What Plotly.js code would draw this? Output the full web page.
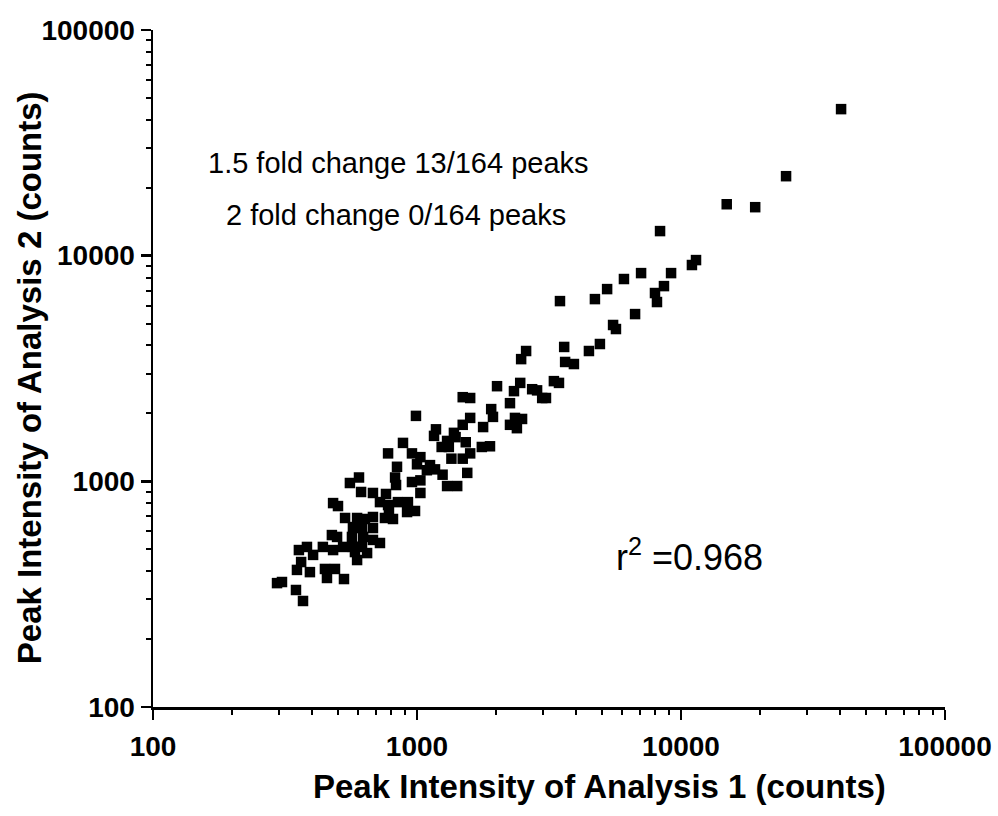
<!DOCTYPE html>
<html>
<head>
<meta charset="utf-8">
<script src="https://cdn.plot.ly/plotly-3.0.1.min.js"></script>
<style>html,body{margin:0;padding:0;background:#fff;}</style>
</head>
<body>
<div id="chart" style="width:998px;height:816px;"></div>
<script>
// Peak intensities
var analysis1 = [40400,25000,14900,19100,8330,11400,11000,9170,7060,6080,5250,4720,3480,8620,7970,8110,6700,5530,5670,4930,4480,3610,3640,3930,2590,2480,2010,2460,2330,2730,2850,3300,3450,2980,3080,2250,1910,1940,1590,1490,1590,1490,1780,2350,2500,2250,2390,1530,1760,1890,991,1180,1160,1380,1400,1300,1240,1320,1590,1490,1350,885,777,957,1030,1000,1120,1170,1090,1250,1550,840,826,833,957,1030,1300,1420,1030,603,557,614,681,763,724,777,847,924,917,983,783,681,756,811,481,502,534,593,635,572,619,681,476,498,567,625,681,724,383,440,525,572,619,357,404,481,582,593,647,364,351,393,448,456,489,529,295,308,348,370];
var analysis2 = [44600,22500,16900,16400,12850,9560,9090,8370,8370,7880,7110,6420,6290,7330,6830,6230,5510,4930,4730,4060,3780,3940,3380,3310,3780,3480,2640,2730,2510,2560,2530,2780,2730,2340,2340,2220,2090,1930,1910,2360,2340,1780,1740,1910,1890,1780,1720,1490,1420,1430,1950,1700,1590,1640,1570,1510,1420,1420,1330,1260,1260,1480,1330,1330,1280,1190,1180,1130,1120,1070,1090,1160,1040,963,993,1010,953,953,888,1040,983,897,888,879,809,785,809,809,731,739,746,695,688,681,801,777,688,688,681,627,621,621,578,567,567,567,550,533,512,512,512,512,512,496,472,496,486,448,481,439,405,396,409,373,409,369,354,358,330,295];

var tickValues = [100, 1000, 10000, 100000];
var tickLabels = ["100", "1000", "10000", "100000"];

var xTitle = "Peak Intensity of Analysis 1 (counts)";
var yTitle = "Peak Intensity of Analysis 2 (counts)";
var note1 = "1.5 fold change 13/164 peaks";
var note2 = "2 fold change 0/164 peaks";
var rText = "r<sup>2</sup> =0.968";

var FONT = "Liberation Sans, Arial, Helvetica, sans-serif";

var trace = {
  x: analysis1,
  y: analysis2,
  type: "scatter",
  mode: "markers",
  marker: {symbol: "square", size: 10.5, color: "#000000", line: {width: 0}},
  hoverinfo: "x+y"
};

function axis(standoff) {
  return {
    type: "log",
    range: [2, 5],
    showline: true,
    linecolor: "#000",
    linewidth: 2.5,
    ticks: "outside",
    ticklen: 10,
    tickwidth: 2.5,
    tickcolor: "#000",
    tickmode: "array",
    tickvals: tickValues,
    ticktext: tickLabels,
    ticklabelstandoff: standoff,
    tickfont: {family: FONT, size: 28, color: "#000", weight: "bold"},
    showgrid: false,
    zeroline: false,
    minor: {ticks: "outside", ticklen: 5, tickwidth: 2, tickcolor: "#000", dtick: "D1", showgrid: false},
    fixedrange: true
  };
}

var titleFont = {family: FONT, size: 33, color: "#000", weight: "bold"};

var layout = {
  width: 998,
  height: 816,
  margin: {l: 153, r: 53, t: 30, b: 109, pad: 0},
  paper_bgcolor: "#fff",
  plot_bgcolor: "#fff",
  showlegend: false,
  xaxis: axis(3),
  yaxis: axis(0),
  annotations: [
    {xref: "paper", yref: "paper", x: 0.564, y: -0.118, text: xTitle, showarrow: false,
     xanchor: "center", yanchor: "middle", font: titleFont},
    {xref: "paper", yref: "paper", x: -0.155, y: 0.486, text: yTitle, showarrow: false, textangle: -90,
     xanchor: "center", yanchor: "middle", font: titleFont},
    {xref: "paper", yref: "paper", x: 0.31, y: 0.8035, text: note1, showarrow: false,
     xanchor: "center", yanchor: "middle", font: {family: FONT, size: 29, color: "#000"}},
    {xref: "paper", yref: "paper", x: 0.307, y: 0.727, text: note2, showarrow: false,
     xanchor: "center", yanchor: "middle", font: {family: FONT, size: 29, color: "#000"}},
    {xref: "paper", yref: "paper", x: 0.678, y: 0.225, text: rText, showarrow: false,
     xanchor: "center", yanchor: "middle", font: {family: FONT, size: 36, color: "#000"}}
  ]
};

Plotly.newPlot("chart", [trace], layout, {displayModeBar: false, staticPlot: true});
</script>
</body>
</html>
